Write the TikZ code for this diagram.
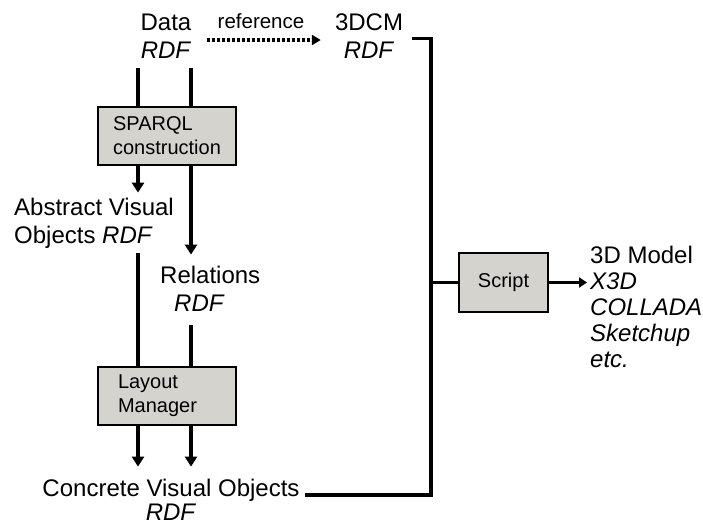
\documentclass[tikz,border=0pt]{standalone}
\usepackage{fontspec}
\setmainfont{Liberation Sans}
\usetikzlibrary{arrows.meta,calc}
\definecolor{boxfill}{RGB}{212,211,205}
\begin{document}
\begin{tikzpicture}[x=1pt,y=-1pt,
  lbl/.style={inner sep=0pt, font=\fontsize{24}{28}\selectfont},
  procbox/.style={draw=black, line width=1.3pt, fill=boxfill, minimum width=138pt,
    minimum height=58pt, inner sep=0pt, align=left, font=\fontsize{20}{24}\selectfont},
  wire/.style={line width=3.7pt},
  flow/.style={wire, -{Triangle[length=10pt,width=12pt]}},
  smallflow/.style={wire, -{Triangle[length=8pt,width=10pt]}},
  dotflow/.style={line width=3.5pt, dash pattern=on 3pt off 2pt, -{Triangle[length=9pt,width=10pt]}}
]
\useasboundingbox (0,0) rectangle (703,528);

% nodes
\node[lbl, align=center] (data) at (166,36) {Data\\\textit{RDF}};
\node[lbl, align=center] (cdcm) at (369,36) {3DCM\\\textit{RDF}};
\node[inner sep=0pt, font=\fontsize{20.5}{24}\selectfont] (refl) at (261,21) {reference};
\node[procbox] (sparql) at (167,136) {SPARQL\\construction};
\node[lbl, align=left, anchor=west] (abstract) at (14,223.5) {Abstract Visual\\Objects \textit{RDF}};
\node[lbl, align=left, anchor=west] (relations) at (160,289) {Relations\\\hspace{14pt}\textit{RDF}};
\node[procbox, text width=98pt] (layout) at (167,396) {Layout\\Manager};
\node[lbl, align=center, font=\fontsize{24}{24}\selectfont] (concrete) at (171,500) {Concrete Visual Objects\\\textit{RDF}};
\node[procbox, minimum width=89pt, minimum height=59pt] (script) at (503.5,282.5) {Script};
\node[lbl, align=left, anchor=west, font=\fontsize{24}{26}\selectfont] (model) at (590,306.5)
  {3D Model\\\textit{X3D}\\\textit{COLLADA}\\\textit{Sketchup}\\\textit{etc.}};

% helper coordinates
\coordinate (colA) at (138,0);
\coordinate (colB) at (191,0);
\coordinate (busTop) at (431,38.5);
\coordinate (busBot) at (431,495);

% connectors
\draw[dotflow, shorten <=15.5pt, shorten >=14pt] ([yshift=-4pt]data.east) -- ([yshift=-4pt]cdcm.west);

\draw[wire, shorten <=10pt] (colA |- data.south) -- (colA |- sparql.north);
\draw[wire, shorten <=10pt] (colB |- data.south) -- (colB |- sparql.north);

\draw[flow, shorten >=5.5pt] (colA |- sparql.south) -- (colA |- abstract.north);
\draw[flow, shorten >=11.5pt] (colB |- sparql.south) -- (colB |- relations.north);

\draw[wire, shorten <=4.5pt] (colA |- abstract.south) -- (colA |- layout.north);
\draw[wire, shorten <=13.5pt] (colB |- relations.south) -- (colB |- layout.north);

\draw[flow, shorten >=12.5pt] (colA |- layout.south) -- (colA |- concrete.north);
\draw[flow, shorten >=12.5pt] (colB |- layout.south) -- (colB |- concrete.north);

\draw[wire] ([xshift=9pt]cdcm.east |- busTop) -- (busTop) -- (busBot)
  -- ([xshift=5pt]concrete.east |- busBot);
\draw[wire] (busBot |- script.west) -- (script.west);
\draw[smallflow, shorten >=3pt] (script.east) -- (model.west |- script.east);
\end{tikzpicture}
\end{document}
